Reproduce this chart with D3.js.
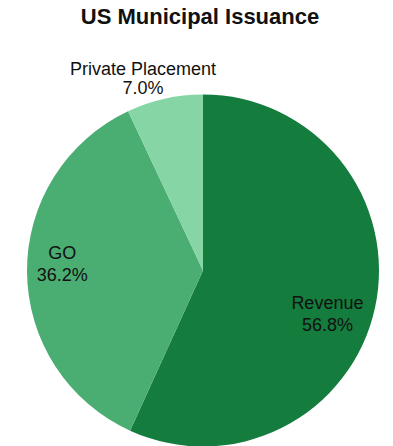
<!DOCTYPE html>
<html>
<head>
<meta charset="utf-8">
<script src="https://cdn.jsdelivr.net/npm/d3@7"></script>
<style>
  html, body { margin: 0; padding: 0; background: #fff; }
  svg { display: block; font-family: "Liberation Sans", Arial, Helvetica, sans-serif; }
</style>
</head>
<body>
<svg id="chart" width="393" height="446"></svg>
<script>
// Issuance mix by type, in percent of total
const categories = ["Revenue", "GO", "Private Placement"];
const shares = [56.8, 36.2, 7.0];
const sliceColors = ["#147c3d", "#4aad72", "#86d5a4"];

const width = 393, height = 446;
const cx = 203, cy = 270.5, radius = 176;

// Label placement per slice: radius factor and angular nudge (degrees) from the slice middle,
// plus the line gap between name and percentage.
const labelLayout = [
  { rf: 0.76, nudge: 9.3, gap: 22 },
  { rf: 0.80, nudge: 0.4, gap: 22 },
  { rf: 1.11, nudge: -5.3, gap: 19 }
];

const svg = d3.select("#chart");

svg.append("text")
  .attr("x", 200)
  .attr("y", 24)
  .attr("text-anchor", "middle")
  .attr("font-weight", "bold")
  .attr("font-size", 22)
  .attr("fill", "#111")
  .text("US Municipal Issuance");

const data = categories.map((c, i) => ({ name: c, value: shares[i], color: sliceColors[i] }));

const pie = d3.pie().sort(null).value(d => d.value);
const arc = d3.arc().innerRadius(0).outerRadius(radius);

const g = svg.append("g").attr("transform", `translate(${cx},${cy})`);

const arcs = pie(data);

g.selectAll("path")
  .data(arcs)
  .join("path")
  .attr("d", arc)
  .attr("fill", d => d.data.color);

const labels = svg.append("g")
  .attr("font-size", 18)
  .attr("fill", "#111")
  .attr("text-anchor", "middle");

arcs.forEach((a, i) => {
  const L = labelLayout[i];
  const mid = (a.startAngle + a.endAngle) / 2 + L.nudge * Math.PI / 180;
  const r = radius * L.rf;
  const lx = cx + r * Math.sin(mid);
  const ly = cy - r * Math.cos(mid);
  const t = labels.append("text").attr("y", ly - L.gap / 2);
  t.append("tspan").attr("x", lx).attr("dy", 0).text(a.data.name);
  t.append("tspan").attr("x", lx).attr("dy", L.gap).text(d3.format(".1f")(a.data.value) + "%");
});
</script>
</body>
</html>
